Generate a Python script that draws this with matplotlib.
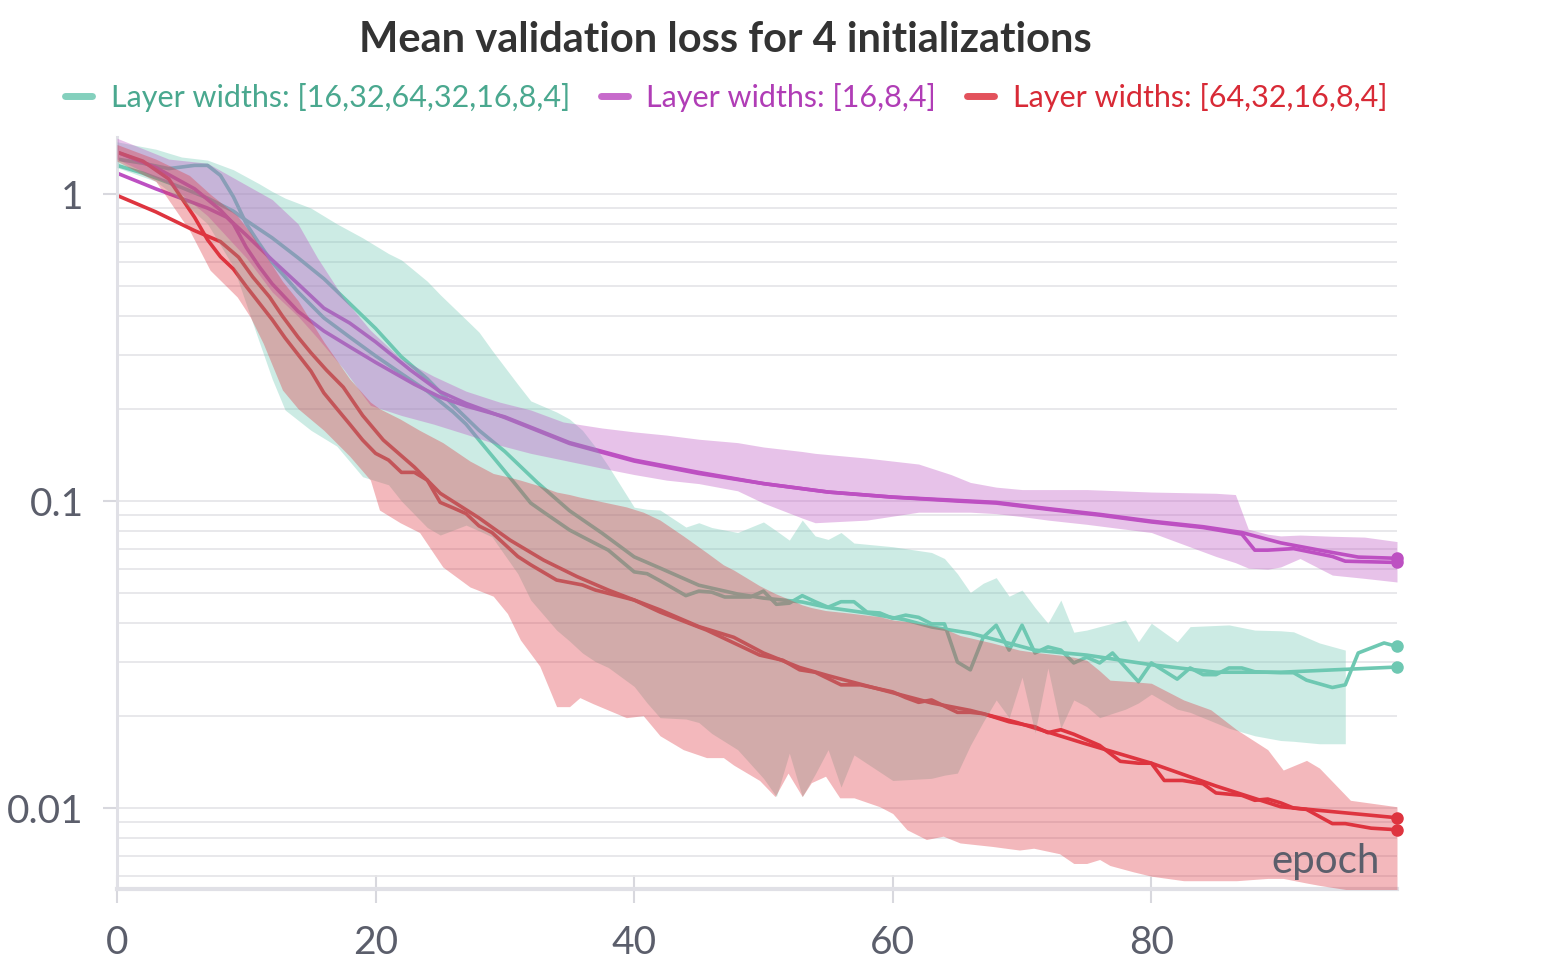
import matplotlib
matplotlib.use("Agg")
import matplotlib.pyplot as plt
from matplotlib.lines import Line2D
from matplotlib.ticker import FixedLocator, FixedFormatter, LogLocator, NullFormatter

plt.rcParams['font.family'] = ['Lato', 'DejaVu Sans']

# ---- data (epoch, loss) ----
labels = ["Layer widths: [16,32,64,32,16,8,4]", "Layer widths: [16,8,4]",
          "Layer widths: [64,32,16,8,4]"]

# [16,32,64,32,16,8,4]
teal_raw_ep = [0, 2, 4, 6, 7, 8, 9, 10, 11, 12, 14, 16, 18, 20, 22, 24, 26, 27, 28, 30, 32, 33, 35, 36,
               38, 40, 41, 42, 44, 45, 46, 47, 49, 50, 51, 52, 53, 54, 55, 56, 57, 58, 59, 60, 61, 62,
               63, 64, 65, 66, 67, 68, 69, 70, 71, 72, 73, 74, 75, 76, 77, 79, 80, 82, 83, 84, 85, 86,
               87, 88, 90, 91, 92, 94, 95, 96, 98, 99]
teal_raw = [1.30, 1.26, 1.21, 1.24, 1.24, 1.15, 0.98, 0.80, 0.69, 0.60, 0.48, 0.395, 0.342, 0.297, 0.26,
            0.228, 0.195, 0.178, 0.158, 0.125, 0.0985, 0.092, 0.0805, 0.0765, 0.0692, 0.0588, 0.058,
            0.055, 0.0492, 0.0509, 0.0505, 0.0487, 0.0487, 0.0509, 0.0461, 0.0465, 0.0492, 0.047,
            0.0451, 0.047, 0.047, 0.0435, 0.0432, 0.0415, 0.0425, 0.0418, 0.0398, 0.0398, 0.0299,
            0.0282, 0.036, 0.0394, 0.0327, 0.0394, 0.032, 0.0335, 0.0327, 0.0297, 0.031, 0.0297, 0.032,
            0.0258, 0.0297, 0.0263, 0.0286, 0.0272, 0.0272, 0.0286, 0.0286, 0.0278, 0.0276, 0.0276,
            0.0261, 0.0247, 0.0252, 0.032, 0.0345, 0.0336]
teal_smooth_ep = [0, 2, 5, 7, 9, 10, 12, 14, 16, 18, 20, 22, 24, 26, 28, 30, 32.5, 35, 37.5, 40, 42, 45,
                  48, 50, 53, 55, 58, 61, 63, 66, 68, 71, 75, 80, 85, 90, 99]
teal_smooth = [1.24, 1.17, 1.05, 0.97, 0.88, 0.82, 0.72, 0.62, 0.53, 0.44, 0.365, 0.295, 0.25, 0.205,
               0.17, 0.145, 0.115, 0.093, 0.0787, 0.0658, 0.0605, 0.0532, 0.0498, 0.0483, 0.0469, 0.045,
               0.0432, 0.041, 0.0389, 0.0371, 0.0353, 0.0327, 0.0315, 0.0293, 0.0277, 0.0277, 0.0288]
teal_band_ep = [0, 3, 5, 7, 9, 11, 12, 13, 15, 17, 19, 21, 22, 24, 25, 27, 28, 29, 31, 32, 34, 35, 36,
                37, 38, 40, 41, 42, 44, 45, 46, 48, 50, 51, 52, 53, 54, 55, 56, 57, 60, 63, 64, 65, 66,
                67, 68, 69, 70, 71, 72, 73, 74, 75, 76, 78, 79, 80, 82, 83, 86, 88, 90, 91, 93, 95]
teal_hi = [1.48, 1.40, 1.32, 1.29, 1.20, 1.08, 1.02, 0.97, 0.90, 0.80, 0.72, 0.64, 0.61, 0.52, 0.47,
           0.39, 0.355, 0.31, 0.24, 0.212, 0.195, 0.185, 0.17, 0.15, 0.13, 0.0955, 0.094, 0.0935, 0.0823,
           0.085, 0.082, 0.079, 0.0855, 0.08, 0.0746, 0.0867, 0.077, 0.075, 0.079, 0.073, 0.071, 0.068,
           0.065, 0.058, 0.0504, 0.054, 0.0563, 0.049, 0.0513, 0.045, 0.040, 0.0476, 0.0374, 0.038,
           0.039, 0.041, 0.0348, 0.040, 0.0348, 0.039, 0.0395, 0.038, 0.0378, 0.0375, 0.0345, 0.0327]
teal_lo = [1.22, 1.10, 0.95, 0.80, 0.58, 0.33, 0.25, 0.198, 0.17, 0.151, 0.12, 0.113, 0.10, 0.082,
           0.0775, 0.0835, 0.08, 0.0765, 0.058, 0.0476, 0.038, 0.035, 0.032, 0.030, 0.0287, 0.0249,
           0.022, 0.0197, 0.0195, 0.019, 0.0175, 0.0155, 0.0125, 0.0109, 0.0151, 0.0109, 0.0129, 0.0155,
           0.0117, 0.0149, 0.0123, 0.0125, 0.0128, 0.013, 0.016, 0.0191, 0.0225, 0.0197, 0.0267, 0.0176,
           0.0286, 0.0182, 0.0225, 0.0214, 0.0197, 0.021, 0.022, 0.0235, 0.021, 0.0205, 0.0182, 0.0172,
           0.0166, 0.0165, 0.0162, 0.0162]

# [16,8,4]
purple_raw_ep = [0, 3, 6, 8, 9, 10, 11, 12, 14, 16, 18, 20, 23, 25, 27, 30, 35, 40, 45, 50, 55, 60, 65,
                 68, 72, 76, 80, 84, 87, 88, 89, 91, 94, 95, 99]
purple_raw = [1.37, 1.22, 1.04, 0.887, 0.80, 0.67, 0.58, 0.51, 0.415, 0.358, 0.318, 0.283, 0.24, 0.218,
              0.204, 0.188, 0.155, 0.136, 0.124, 0.114, 0.107, 0.103, 0.100, 0.0985, 0.094, 0.090,
              0.0855, 0.082, 0.078, 0.0692, 0.0692, 0.070, 0.066, 0.0637, 0.0631]
purple_smooth_ep = [0, 3, 7, 8.5, 10, 12, 14, 16, 18, 20, 22.7, 25, 27, 30, 35, 40, 45, 50, 55, 60, 65,
                    68, 72, 76, 80, 84, 87, 90, 93, 96, 99]
purple_smooth = [1.17, 1.04, 0.90, 0.84, 0.735, 0.61, 0.51, 0.425, 0.38, 0.33, 0.267, 0.227, 0.208,
                 0.187, 0.154, 0.135, 0.123, 0.114, 0.107, 0.103, 0.1005, 0.099, 0.0945, 0.0905, 0.086,
                 0.0825, 0.079, 0.0731, 0.0692, 0.0657, 0.0651]
purple_band_ep = [0, 4, 7, 10, 12, 14, 15.5, 17.5, 19.6, 22, 24.5, 27, 29.6, 32, 34.5, 37.5, 40, 42.5,
                  45, 48, 50, 53, 54, 58, 62, 64.5, 66, 68, 70, 72, 75, 80, 85, 86.5, 87.5, 89, 90,
                  91.5, 94, 96.5, 99]
purple_hi = [1.52, 1.30, 1.26, 1.07, 0.96, 0.80, 0.62, 0.46, 0.36, 0.29, 0.255, 0.228, 0.21, 0.198,
             0.181, 0.173, 0.168, 0.164, 0.159, 0.155, 0.150, 0.145, 0.143, 0.138, 0.132, 0.122, 0.115,
             0.111, 0.109, 0.109, 0.109, 0.107, 0.106, 0.105, 0.081, 0.078, 0.077, 0.0775, 0.0768,
             0.0763, 0.0738]
purple_lo = [1.30, 1.08, 0.85, 0.62, 0.48, 0.40, 0.34, 0.27, 0.205, 0.19, 0.178, 0.165, 0.152, 0.143,
             0.136, 0.128, 0.122, 0.117, 0.114, 0.108, 0.0985, 0.088, 0.085, 0.0867, 0.092, 0.092,
             0.092, 0.091, 0.089, 0.0867, 0.084, 0.079, 0.066, 0.063, 0.0605, 0.060, 0.061, 0.065,
             0.0574, 0.056, 0.0545]

# [64,32,16,8,4]
red_raw_ep = [0, 2, 4, 5, 6, 7, 8, 9, 10, 12, 13, 15, 16, 17, 18, 19, 20, 21, 22, 23, 24, 25, 26, 27,
              28, 29, 31, 32, 34, 36, 37, 40, 42, 45.6, 49.7, 51.5, 52.8, 54, 56, 57.5, 60, 61, 62, 63,
              65, 66, 67, 69, 71, 72, 73, 74, 76, 77.6, 79, 80, 81, 82.4, 84, 85, 87, 88, 89, 90, 91,
              92, 94, 95, 97, 99]
red_raw = [1.37, 1.28, 1.12, 0.97, 0.84, 0.71, 0.625, 0.57, 0.50, 0.39, 0.34, 0.265, 0.225, 0.20, 0.178,
           0.158, 0.143, 0.136, 0.124, 0.124, 0.117, 0.099, 0.095, 0.091, 0.083, 0.079, 0.066, 0.062,
           0.0553, 0.0533, 0.0513, 0.0476, 0.0435, 0.038, 0.0315, 0.0303, 0.0282, 0.0277, 0.0252,
           0.0252, 0.0239, 0.0229, 0.0221, 0.0225, 0.0205, 0.0205, 0.0203, 0.0191, 0.0184, 0.0176,
           0.018, 0.0174, 0.016, 0.0142, 0.014, 0.014, 0.0123, 0.0123, 0.012, 0.0112, 0.011, 0.0106,
           0.0107, 0.0104, 0.0100, 0.0099, 0.0089, 0.0089, 0.0086, 0.0085]
red_smooth_ep = [0, 3, 6, 8, 9.4, 10.5, 11.8, 12.8, 14, 15, 16.2, 17.5, 19, 20.6, 23, 25, 28, 30.4, 33,
                 35.6, 38, 42, 45, 47.7, 50, 52.8, 55, 58, 63, 66, 69.6, 74.7, 80, 85, 90, 99]
red_smooth = [0.99, 0.875, 0.76, 0.70, 0.623, 0.537, 0.462, 0.40, 0.342, 0.304, 0.267, 0.235, 0.19,
              0.158, 0.129, 0.106, 0.0881, 0.0746, 0.0642, 0.0567, 0.0513, 0.0442, 0.039, 0.036, 0.032,
              0.0287, 0.027, 0.025, 0.022, 0.0208, 0.019, 0.0163, 0.014, 0.0118, 0.0101, 0.0093]
red_band_ep = [0, 3, 5.6, 7.2, 9.3, 10.3, 11.3, 12.8, 14, 16, 18, 19.6, 20.3, 21.9, 23.4, 25.2, 27.3,
               29.1, 30.2, 31.2, 32.7, 34, 35, 35.8, 36.8, 39.4, 40.7, 42, 43.8, 45.6, 46.9, 47.7, 49.7,
               50.9, 51.9, 53, 53.7, 54.8, 55.9, 57, 59, 60, 61.1, 62.6, 63.9, 65.2, 67.7, 69.8, 70.9,
               72.9, 74, 75, 76, 76.8, 78.6, 80, 82.5, 84.6, 86.6, 89, 90.2, 92, 93, 95.4, 99]
red_hi = [1.45, 1.30, 1.15, 1.00, 0.85, 0.75, 0.65, 0.52, 0.45, 0.33, 0.25, 0.21, 0.20, 0.185, 0.17,
          0.155, 0.135, 0.123, 0.12, 0.117, 0.112, 0.107, 0.105, 0.103, 0.101, 0.0957, 0.092, 0.0867,
          0.077, 0.068, 0.062, 0.0596, 0.053, 0.050, 0.048, 0.0459, 0.045, 0.044, 0.0435, 0.043, 0.042,
          0.041, 0.0405, 0.0395, 0.0385, 0.0365, 0.0345, 0.0327, 0.0322, 0.0315, 0.031, 0.0303, 0.028,
          0.0261, 0.0258, 0.0255, 0.0225, 0.0209, 0.018, 0.0155, 0.0133, 0.0143, 0.0135, 0.0106, 0.0101]
red_lo = [1.28, 1.10, 0.763, 0.565, 0.462, 0.398, 0.327, 0.23, 0.20, 0.17, 0.14, 0.117, 0.0935, 0.085,
          0.079, 0.061, 0.0525, 0.049, 0.043, 0.0353, 0.029, 0.0214, 0.0214, 0.0229, 0.0219, 0.0197,
          0.020, 0.0172, 0.0155, 0.0146, 0.0146, 0.0138, 0.0123, 0.0109, 0.013, 0.0109, 0.0121, 0.0127,
          0.0108, 0.0108, 0.0101, 0.0096, 0.0085, 0.0079, 0.0081, 0.0077, 0.0075, 0.0073, 0.0074,
          0.0071, 0.0066, 0.0066, 0.0068, 0.0065, 0.0062, 0.0060, 0.0058, 0.0058, 0.0058, 0.0059,
          0.0059, 0.0057, 0.0056, 0.0054, 0.0053]

line_colors = ['#6ec8b2', '#bd50c2', '#de343f']
text_colors = ['#4aa88f', '#b03db6', '#d82a36']
groups = [
    (teal_raw_ep, teal_raw, teal_smooth_ep, teal_smooth, teal_band_ep, teal_lo, teal_hi),
    (purple_raw_ep, purple_raw, purple_smooth_ep, purple_smooth, purple_band_ep, purple_lo, purple_hi),
    (red_raw_ep, red_raw, red_smooth_ep, red_smooth, red_band_ep, red_lo, red_hi),
]

fig = plt.figure(figsize=(15.5, 9.77), dpi=100)
ax = fig.add_axes([117 / 1550, 88 / 977, 1280 / 1550, 752 / 977])

for (rx, ry, sx, sy, bx, lo, hi), c in zip(groups, line_colors):
    ax.plot(rx, ry, color=c, lw=2.6, zorder=2, solid_joinstyle='round')
    ax.plot(sx, sy, color=c, lw=2.6, zorder=2, solid_joinstyle='round')
    ax.fill_between(bx, lo, hi, color=c, alpha=0.35, lw=0, zorder=3)
    ax.plot([rx[-1], sx[-1]], [ry[-1], sy[-1]], 'o', color=c, ms=8, zorder=5, clip_on=False)

ax.set_yscale('log')
ax.set_xlim(0, 99)
ax.set_ylim(0.00545, 1.534)

ax.yaxis.set_major_locator(FixedLocator([0.01, 0.1, 1]))
ax.yaxis.set_major_formatter(FixedFormatter(['0.01', '0.1', '1']))
ax.yaxis.set_minor_locator(LogLocator(base=10, subs=[2, 3, 4, 5, 6, 7, 8, 9]))
ax.yaxis.set_minor_formatter(NullFormatter())
ax.set_xticks([0, 20, 40, 60, 80])

ax.grid(True, which='both', axis='y', color='#e6e6e9', lw=1.3, zorder=0)
ax.set_axisbelow(True)

for s in ['top', 'right']:
    ax.spines[s].set_visible(False)
ax.spines['left'].set_color('#e0e0e6')
ax.spines['left'].set_linewidth(2.2)
ax.spines['bottom'].set_color('#e0e0e6')
ax.spines['bottom'].set_linewidth(3)

ax.tick_params(axis='y', which='major', length=10, width=1.5, color='#d8d8de', pad=14,
               labelsize=28, labelcolor='#5b5e6b')
ax.tick_params(axis='y', which='minor', length=0)
ax.tick_params(axis='x', direction='inout', length=20, width=1.5, color='#d8d8de', pad=16,
               labelsize=28, labelcolor='#5b5e6b')

ax.text(0.944, 0.036, 'epoch', transform=ax.transAxes, ha='center', va='center',
        fontsize=29, color='#5b5e6b', zorder=6)

fig.text(725 / 1550, 1 - 40 / 977, 'Mean validation loss for 4 initializations',
         ha='center', va='center', fontsize=30, fontweight='bold', color='#333333')

handles = [Line2D([0], [0], color=c, lw=5, alpha=0.85, solid_capstyle='round') for c in line_colors]
leg = fig.legend(handles, labels, loc='center', bbox_to_anchor=(726 / 1550, 1 - 97 / 977), ncol=3,
                 frameon=False, fontsize=22, handlelength=0.9, handletextpad=0.6, columnspacing=1.0)
for t, c in zip(leg.get_texts(), text_colors):
    t.set_color(c)

fig.savefig('out.png', dpi=100, facecolor='white')
